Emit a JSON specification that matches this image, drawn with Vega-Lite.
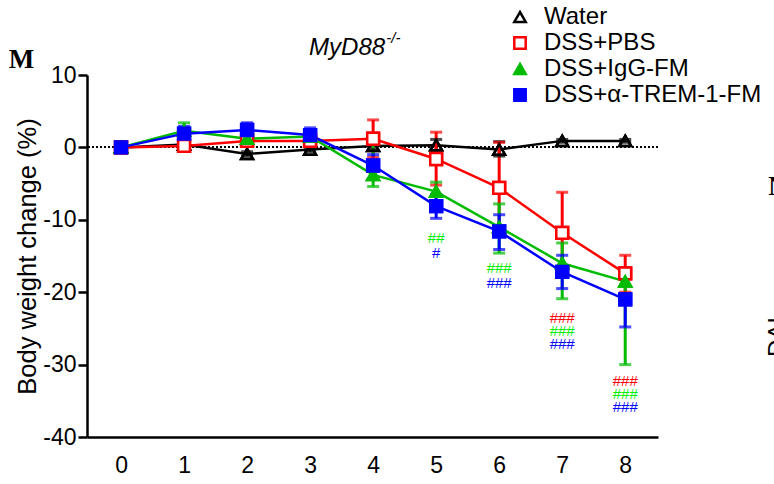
{
  "$schema": "https://vega.github.io/schema/vega-lite/v6.json",
  "width": 571,
  "height": 362,
  "autosize": {"type": "none"},
  "padding": {"left": 87, "top": 75, "right": 116, "bottom": 47},
  "config": {"view": {"stroke": null}, "font": "Liberation Sans"},
  "datasets": {
    "series": [
      {"g": "Water", "day": 0, "y": 0, "lo": 0, "hi": 0},
      {"g": "Water", "day": 1, "y": 0.4, "lo": 0.1, "hi": 0.7},
      {"g": "Water", "day": 2, "y": -0.9, "lo": -1.2, "hi": -0.6},
      {"g": "Water", "day": 3, "y": -0.3, "lo": -0.6, "hi": 0.0},
      {"g": "Water", "day": 4, "y": 0.2, "lo": -0.3, "hi": 0.7},
      {"g": "Water", "day": 5, "y": 0.3, "lo": -0.5, "hi": 1.1},
      {"g": "Water", "day": 6, "y": -0.3, "lo": -1.2, "hi": 0.8},
      {"g": "Water", "day": 7, "y": 0.9, "lo": 0.7, "hi": 1.1},
      {"g": "Water", "day": 8, "y": 0.9, "lo": 0.7, "hi": 1.1},
      {"g": "DSS+PBS", "day": 0, "y": 0, "lo": 0, "hi": 0},
      {"g": "DSS+PBS", "day": 1, "y": 0.2, "lo": -0.2, "hi": 0.6},
      {"g": "DSS+PBS", "day": 2, "y": 0.9, "lo": 0.5, "hi": 1.3},
      {"g": "DSS+PBS", "day": 3, "y": 0.9, "lo": 0.5, "hi": 1.3},
      {"g": "DSS+PBS", "day": 4, "y": 1.2, "lo": -1.4, "hi": 3.8},
      {"g": "DSS+PBS", "day": 5, "y": -1.6, "lo": -5.2, "hi": 2.1},
      {"g": "DSS+PBS", "day": 6, "y": -5.6, "lo": -12.0, "hi": 0.7},
      {"g": "DSS+PBS", "day": 7, "y": -11.8, "lo": -17.4, "hi": -6.2},
      {"g": "DSS+PBS", "day": 8, "y": -17.4, "lo": -20.0, "hi": -14.9},
      {"g": "DSS+IgG-FM", "day": 0, "y": 0, "lo": 0, "hi": 0},
      {"g": "DSS+IgG-FM", "day": 1, "y": 2.3, "lo": 0.8, "hi": 3.4},
      {"g": "DSS+IgG-FM", "day": 2, "y": 1.2, "lo": 0.3, "hi": 2.0},
      {"g": "DSS+IgG-FM", "day": 3, "y": 1.5, "lo": 0.6, "hi": 2.3},
      {"g": "DSS+IgG-FM", "day": 4, "y": -3.8, "lo": -5.4, "hi": 0.6},
      {"g": "DSS+IgG-FM", "day": 5, "y": -6.1, "lo": -7.4, "hi": -4.8},
      {"g": "DSS+IgG-FM", "day": 6, "y": -11.0, "lo": -14.6, "hi": -7.8},
      {"g": "DSS+IgG-FM", "day": 7, "y": -16.0, "lo": -20.9, "hi": -13.2},
      {"g": "DSS+IgG-FM", "day": 8, "y": -18.5, "lo": -30.0, "hi": -17.9},
      {"g": "DSS+α-TREM-1-FM", "day": 0, "y": 0, "lo": 0, "hi": 0},
      {"g": "DSS+α-TREM-1-FM", "day": 1, "y": 1.9, "lo": 0.9, "hi": 2.9},
      {"g": "DSS+α-TREM-1-FM", "day": 2, "y": 2.4, "lo": 1.5, "hi": 3.4},
      {"g": "DSS+α-TREM-1-FM", "day": 3, "y": 1.7, "lo": 0.8, "hi": 2.7},
      {"g": "DSS+α-TREM-1-FM", "day": 4, "y": -2.5, "lo": -4.3, "hi": -1.0},
      {"g": "DSS+α-TREM-1-FM", "day": 5, "y": -8.1, "lo": -9.8, "hi": -6.5},
      {"g": "DSS+α-TREM-1-FM", "day": 6, "y": -11.6, "lo": -14.1, "hi": -9.3},
      {"g": "DSS+α-TREM-1-FM", "day": 7, "y": -17.2, "lo": -19.5, "hi": -14.9},
      {"g": "DSS+α-TREM-1-FM", "day": 8, "y": -21.0, "lo": -24.8, "hi": -20.2}
    ],
    "ann": [
      {"g": "DSS+IgG-FM", "day": 5, "y": -12.5, "label": "##"},
      {"g": "DSS+α-TREM-1-FM", "day": 5, "y": -14.6, "label": "#"},
      {"g": "DSS+IgG-FM", "day": 6, "y": -16.7, "label": "###"},
      {"g": "DSS+α-TREM-1-FM", "day": 6, "y": -18.7, "label": "###"},
      {"g": "DSS+PBS", "day": 7, "y": -23.6, "label": "###"},
      {"g": "DSS+IgG-FM", "day": 7, "y": -25.3, "label": "###"},
      {"g": "DSS+α-TREM-1-FM", "day": 7, "y": -27.1, "label": "###"},
      {"g": "DSS+PBS", "day": 8, "y": -32.3, "label": "###"},
      {"g": "DSS+IgG-FM", "day": 8, "y": -34.1, "label": "###"},
      {"g": "DSS+α-TREM-1-FM", "day": 8, "y": -35.9, "label": "###"}
    ]
  },
  "layer": [
    {
      "data": {"name": "series"},
      "mark": {"type": "point", "filled": false, "size": 140, "strokeWidth": 2.5, "opacity": 1},
      "encoding": {
        "x": {"field": "day", "type": "quantitative", "scale": {"domain": [-0.54, 8.52], "nice": false, "zero": false},
          "axis": {"values": [0, 1, 2, 3, 4, 5, 6, 7, 8], "labelExpr": "'' + datum.value", "title": null, "ticks": false, "tickSize": 0, "labelFont": "Liberation Sans", "labelFontSize": 23, "labelColor": "black", "labelPadding": 17, "domainColor": "black", "domainWidth": 2.5, "grid": false, "labelFlush": false}},
        "y": {"field": "y", "type": "quantitative", "scale": {"domain": [-40, 10], "nice": false, "zero": false},
          "axis": {"values": [-40, -30, -20, -10, 0, 10], "labelExpr": "'' + datum.value", "title": "Body weight change (%)", "titleFont": "Liberation Sans", "titleFontSize": 25.5, "titleFontWeight": "normal", "titleColor": "black", "titlePadding": 2, "labelFont": "Liberation Sans", "labelFontSize": 23, "labelColor": "black", "labelPadding": 2, "tickSize": 9, "tickWidth": 2.5, "tickColor": "black", "domainColor": "black", "domainWidth": 2.5, "grid": false, "labelFlush": false}},
        "stroke": {"field": "g", "type": "nominal", "title": null,
          "scale": {"domain": ["Water", "DSS+PBS", "DSS+IgG-FM", "DSS+α-TREM-1-FM"], "range": ["#000000", "#FF0000", "#00BB00", "#0000FF"]},
          "legend": {"orient": "none", "legendX": 421, "legendY": -70, "title": null, "padding": 0, "labelFont": "Liberation Sans", "labelFontSize": 24, "labelColor": "black", "labelOffset": 12, "labelLimit": 400, "symbolSize": 130, "symbolStrokeWidth": 2.5, "symbolOpacity": 1, "rowPadding": 2,
            "encode": {"symbols": {"fill": {"condition": [{"test": "datum.value == 'Water'", "value": "transparent"}, {"test": "datum.value == 'DSS+PBS'", "value": "#FFFFFF"}, {"test": "datum.value == 'DSS+IgG-FM'", "value": "#00BB00"}], "value": "#0000FF"}, "fillOpacity": {"value": 1}}}}},
        "fill": {"field": "g", "type": "nominal", "title": null, "scale": {"domain": ["Water", "DSS+PBS", "DSS+IgG-FM", "DSS+α-TREM-1-FM"], "range": ["transparent", "#FFFFFF", "#00BB00", "#0000FF"]}},
        "shape": {"field": "g", "type": "nominal", "title": null, "scale": {"domain": ["Water", "DSS+PBS", "DSS+IgG-FM", "DSS+α-TREM-1-FM"], "range": ["triangle-up", "square", "triangle-up", "square"]}}
      }
    },
    {
      "data": {"name": "series"},
      "mark": {"type": "rule", "color": "black", "strokeDash": [2, 2], "strokeWidth": 1},
      "encoding": {
        "y": {"datum": 0, "type": "quantitative"}
      }
    },
    {
      "data": {"name": "series"},
      "mark": {"type": "line", "strokeWidth": 2.5},
      "encoding": {
        "x": {"field": "day", "type": "quantitative"},
        "y": {"field": "y", "type": "quantitative"},
        "stroke": {"field": "g", "type": "nominal", "title": null}
      }
    },
    {
      "data": {"name": "series"},
      "mark": {"type": "rule", "strokeWidth": 3},
      "encoding": {
        "x": {"field": "day", "type": "quantitative"},
        "y": {"field": "lo", "type": "quantitative"},
        "y2": {"field": "hi"},
        "stroke": {"field": "g", "type": "nominal", "title": null}
      }
    },
    {
      "data": {"name": "series"},
      "mark": {"type": "tick", "orient": "horizontal", "size": 12, "thickness": 3},
      "encoding": {
        "x": {"field": "day", "type": "quantitative"},
        "y": {"field": "lo", "type": "quantitative"},
        "color": {"field": "g", "type": "nominal", "legend": null, "scale": {"domain": ["Water", "DSS+PBS", "DSS+IgG-FM", "DSS+α-TREM-1-FM"], "range": ["#000000", "#FF0000", "#00BB00", "#0000FF"]}}
      }
    },
    {
      "data": {"name": "series"},
      "mark": {"type": "tick", "orient": "horizontal", "size": 12, "thickness": 3},
      "encoding": {
        "x": {"field": "day", "type": "quantitative"},
        "y": {"field": "hi", "type": "quantitative"},
        "color": {"field": "g", "type": "nominal", "legend": null}
      }
    },
    {
      "data": {"name": "series"},
      "mark": {"type": "point", "filled": false, "size": 140, "strokeWidth": 2.5, "opacity": 1},
      "encoding": {
        "x": {"field": "day", "type": "quantitative"},
        "y": {"field": "y", "type": "quantitative"},
        "stroke": {"field": "g", "type": "nominal", "title": null},
        "fill": {"field": "g", "type": "nominal", "title": null},
        "shape": {"field": "g", "type": "nominal", "title": null}
      }
    },
    {
      "data": {"name": "ann"},
      "transform": [{"filter": "datum.g == 'DSS+PBS'"}],
      "mark": {"type": "text", "font": "Liberation Sans", "fontSize": 15, "color": "#FF0000", "baseline": "middle", "align": "center"},
      "encoding": {"x": {"field": "day", "type": "quantitative"}, "y": {"field": "y", "type": "quantitative"}, "text": {"field": "label"}}
    },
    {
      "data": {"name": "ann"},
      "transform": [{"filter": "datum.g == 'DSS+IgG-FM'"}],
      "mark": {"type": "text", "font": "Liberation Sans", "fontSize": 15, "color": "#00EE00", "baseline": "middle", "align": "center"},
      "encoding": {"x": {"field": "day", "type": "quantitative"}, "y": {"field": "y", "type": "quantitative"}, "text": {"field": "label"}}
    },
    {
      "data": {"name": "ann"},
      "transform": [{"filter": "datum.g == 'DSS+α-TREM-1-FM'"}],
      "mark": {"type": "text", "font": "Liberation Sans", "fontSize": 15, "color": "#0000FF", "baseline": "middle", "align": "center"},
      "encoding": {"x": {"field": "day", "type": "quantitative"}, "y": {"field": "y", "type": "quantitative"}, "text": {"field": "label"}}
    },
    {
      "data": {"values": [{}]},
      "mark": {"type": "text", "font": "Liberation Sans", "fontSize": 24, "fontStyle": "italic", "color": "black", "align": "right", "baseline": "alphabetic"},
      "encoding": {"x": {"datum": 4.19, "type": "quantitative"}, "y": {"datum": 12.76, "type": "quantitative"}, "text": {"value": "MyD88"}}
    },
    {
      "data": {"values": [{}]},
      "mark": {"type": "text", "font": "Liberation Sans", "fontSize": 15, "fontStyle": "italic", "color": "black", "align": "left", "baseline": "alphabetic"},
      "encoding": {"x": {"datum": 4.21, "type": "quantitative"}, "y": {"datum": 14.4, "type": "quantitative"}, "text": {"value": "-/-"}}
    },
    {
      "data": {"values": [{}]},
      "mark": {"type": "text", "font": "Liberation Serif", "fontSize": 27, "fontWeight": "bold", "color": "black", "align": "center", "baseline": "alphabetic"},
      "encoding": {"x": {"datum": -1.58, "type": "quantitative"}, "y": {"datum": 10.97, "type": "quantitative"}, "text": {"value": "M"}}
    },
    {
      "data": {"values": [{}]},
      "mark": {"type": "text", "font": "Liberation Serif", "fontSize": 27, "fontWeight": "bold", "color": "black", "align": "left", "baseline": "alphabetic"},
      "encoding": {"x": {"datum": 10.27, "type": "quantitative"}, "y": {"datum": -6.57, "type": "quantitative"}, "text": {"value": "N"}}
    },
    {
      "data": {"values": [{}]},
      "mark": {"type": "text", "font": "Liberation Sans", "fontSize": 24, "color": "black", "align": "left", "baseline": "alphabetic", "angle": 270},
      "encoding": {"x": {"datum": 10.54, "type": "quantitative"}, "y": {"datum": -28.95, "type": "quantitative"}, "text": {"value": "DAI"}}
    }
  ]
}
